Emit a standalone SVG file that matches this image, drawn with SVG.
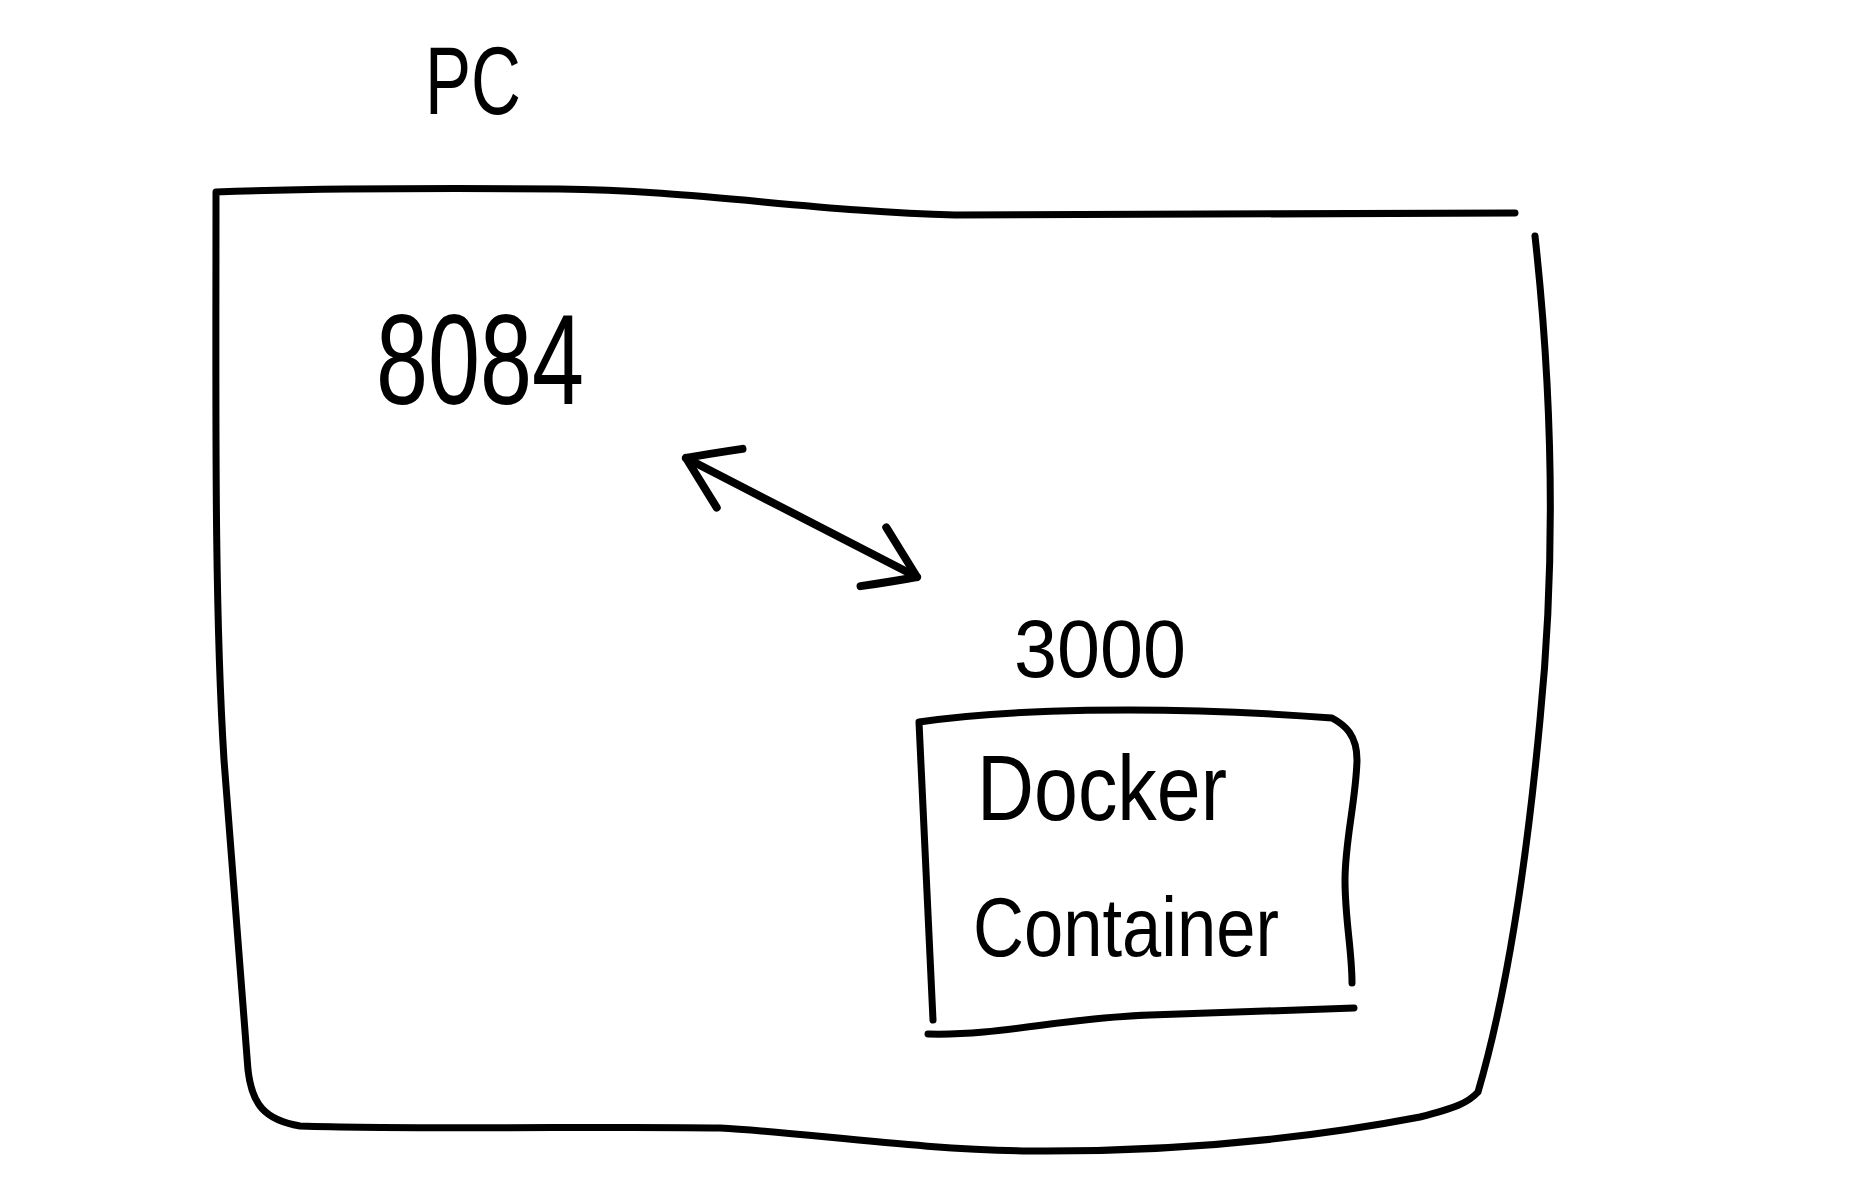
<svg xmlns="http://www.w3.org/2000/svg" width="1849" height="1198" viewBox="0 0 1849 1198">
<style>
.ink{fill:none;stroke:#000;stroke-linecap:round;stroke-linejoin:round}
.box{stroke-width:7}
.lbl{font-family:"Liberation Sans","DejaVu Sans",sans-serif;fill:#000}
</style>
<defs>
<marker id="head" viewBox="-64 -40 72 80" refX="0" refY="0" markerWidth="72" markerHeight="80" markerUnits="userSpaceOnUse" orient="auto-start-reverse">
<path d="M-50,-30 Q-20,-12 0,0 Q-18,14 -46,34" fill="none" stroke="#000" stroke-width="8" stroke-linecap="round" stroke-linejoin="round"/>
</marker>
</defs>
<rect width="1849" height="1198" fill="#fff"/>
<g id="pc">
<text class="lbl" x="425" y="114" font-size="96" textLength="96" lengthAdjust="spacingAndGlyphs">PC</text>
<path class="ink box" d="M1515,213 L955,215 C820,212 690,190 560,189 C420,188 300,189 216,192 C216,400 214,600 224,760 C234,900 242,1000 248,1070 C252,1105 265,1120 300,1126 C420,1130 620,1126 720,1128 C800,1132 920,1150 1030,1151 C1170,1152 1300,1140 1420,1117 C1455,1108 1468,1103 1478,1092 C1505,1000 1525,880 1540,720 C1556,560 1553,400 1535,236"/>
</g>
<g id="port-8084">
<text class="lbl" x="376" y="404" font-size="128" textLength="208" lengthAdjust="spacingAndGlyphs">8084</text>
</g>
<g id="port-3000">
<text class="lbl" x="1014" y="677" font-size="82" textLength="172" lengthAdjust="spacingAndGlyphs">3000</text>
</g>
<g id="docker-container">
<path class="ink box" d="M933,1020 C928,900 922,780 919,722 C1000,710 1150,704 1332,718 C1345,725 1357,735 1357,760 C1356,800 1345,840 1345,880 C1345,920 1352,950 1352,983"/>
<path class="ink box" d="M928,1034 C1000,1036 1060,1018 1150,1015 C1250,1012 1310,1010 1354,1008"/>
<text class="lbl" x="977" y="820" font-size="92" textLength="250" lengthAdjust="spacingAndGlyphs">Docker</text>
<text class="lbl" x="973" y="956" font-size="84" textLength="306" lengthAdjust="spacingAndGlyphs">Container</text>
</g>
<g id="connectors">
<path class="ink" stroke-width="8" d="M686,458 L917,577" marker-start="url(#head)" marker-end="url(#head)"/>
</g>
</svg>
